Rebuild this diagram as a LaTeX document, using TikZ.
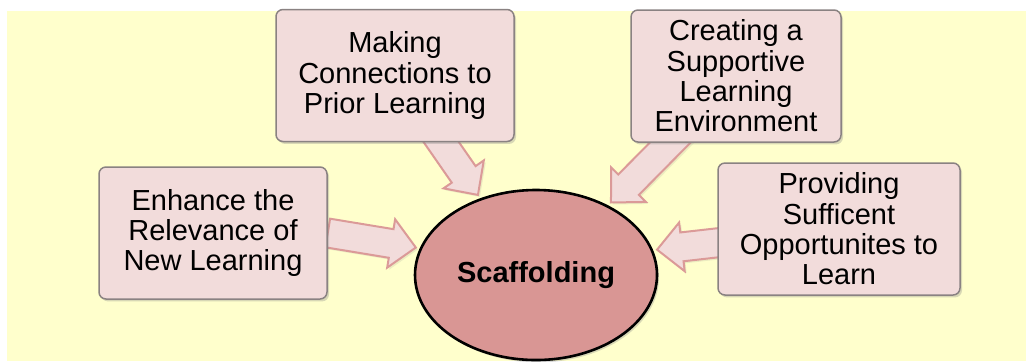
\documentclass[tikz,border=0pt]{standalone}
\usepackage{fontspec}
\setmainfont{Liberation Sans}
\usetikzlibrary{shapes.geometric,calc,shadows}
\definecolor{bgyellow}{HTML}{FFFFCC}
\definecolor{boxpink}{HTML}{F2DCDB}
\definecolor{corepink}{HTML}{D99694}
\definecolor{boxedge}{HTML}{8A8282}
\definecolor{arrowedge}{HTML}{DB9A98}
\pgfdeclarelayer{bg}
\pgfdeclarelayer{arrows}
\pgfsetlayers{bg,arrows,main}
\tikzset{
    %Define style for the boxes round the centre
    idea/.style={
           rectangle,
           rounded corners=3.5pt,
           draw=boxedge,
           line width=0.75pt,
           fill=boxpink,
           minimum height=66pt,
           inner sep=2pt,
           align=center,
           font=\fontsize{14.5}{15.2}\selectfont,
           drop shadow={opacity=0.3,shadow xshift=1pt,shadow yshift=-1.2pt}},
    %Define style for the centre
    core/.style={
           ellipse,
           draw=black,
           line width=1.3pt,
           fill=corepink,
           minimum width=121pt,
           minimum height=85pt,
           inner sep=0pt,
           font=\fontsize{14.5}{15.2}\selectfont\bfseries,
           drop shadow={opacity=0.3,shadow xshift=1pt,shadow yshift=-1.2pt}},
    % Define block arrow style
    fat/.style={
           fill=boxpink,
           draw=arrowedge,
           line width=1pt,
           line join=miter,
           drop shadow={opacity=0.15,shadow xshift=1pt,shadow yshift=-1pt}}
}
% block arrow from #1 towards #2
\newcommand{\fatarrow}[2]{%
  \coordinate (fa-t) at ($(#2)!2pt!(#1)$);
  \coordinate (fa-b) at ($(fa-t)!12.5pt!(#1)$);
  \draw[fat] ($(#1)!7.25pt!90:(fa-t)$) -- ($(fa-b)!7.25pt!90:(fa-t)$)
    -- ($(fa-b)!12.25pt!90:(fa-t)$) -- (fa-t)
    -- ($(fa-b)!12.25pt!-90:(fa-t)$) -- ($(fa-b)!7.25pt!-90:(fa-t)$)
    -- ($(#1)!7.25pt!-90:(fa-t)$) -- cycle;}

\begin{document}
\begin{tikzpicture}[x=0.5pt,y=-0.5pt]
  \useasboundingbox (0,0) rectangle (1026,361);
  \begin{pgfonlayer}{bg}
    \fill[white] (0,0) rectangle (1026,361);
    \fill[bgyellow] (7,11) rectangle (1026,361);
  \end{pgfonlayer}
  \node[core] (scaf) at (536,275) {Scaffolding};
  \node[idea,minimum width=114pt] (enh) at (213,233) {Enhance the\\Relevance of\\New Learning};
  \node[idea,minimum width=119pt] (conn) at (395,75.5) {Making\\Connections to\\Prior Learning};
  \node[idea,minimum width=105pt] (env) at (736,76) {Creating a\\Supportive\\Learning\\Environment};
  \node[idea,minimum width=121pt] (opp) at (839,229) {Providing\\Sufficent\\Opportunites to\\Learn};
  \begin{pgfonlayer}{arrows}
    \fatarrow{enh.east}{scaf.167}
    \fatarrow{conn.center}{scaf.126}
    \fatarrow{env.center}{scaf.44}
    \fatarrow{opp.center}{scaf.12}
  \end{pgfonlayer}
\end{tikzpicture}
\end{document}
